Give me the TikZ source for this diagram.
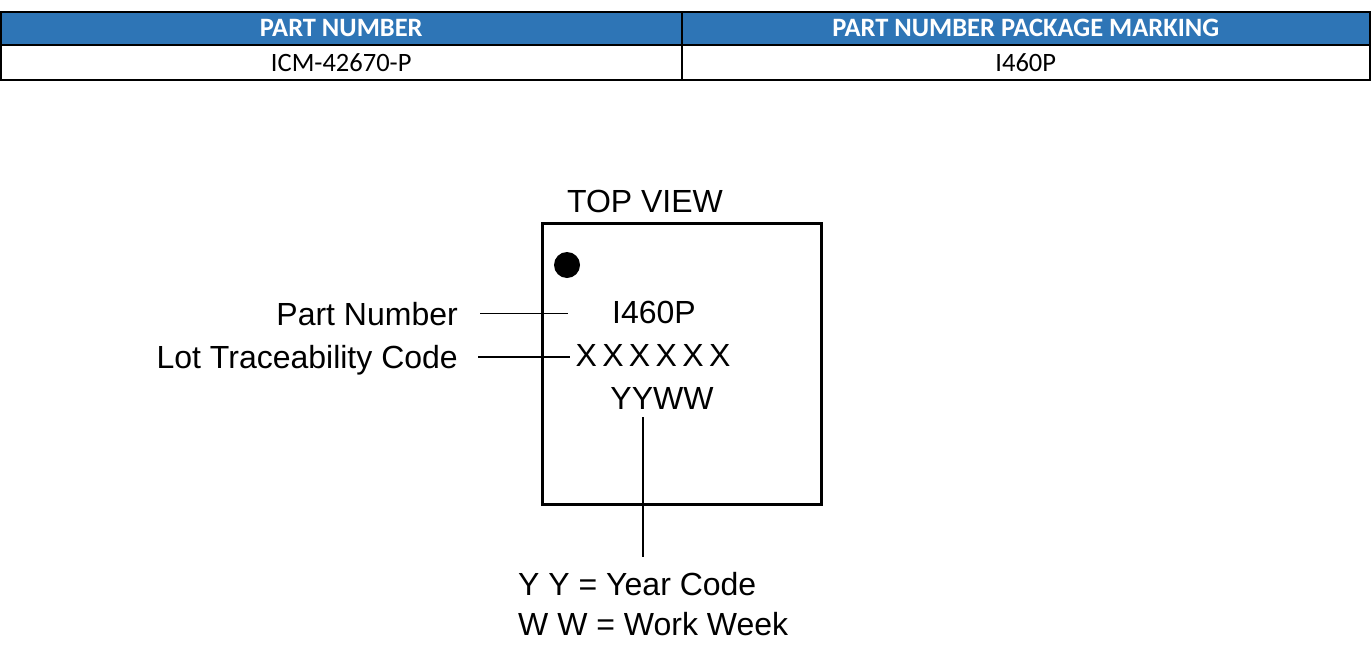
\documentclass[tikz,border=0pt]{standalone}
\usepackage{fontspec}
\setmainfont{Liberation Sans}
\newfontfamily\tablefont{Carlito}
\definecolor{hdrblue}{HTML}{2E75B6}

\begin{document}
\begin{tikzpicture}[x=1pt,y=-1pt,
	hdr/.style={draw,line width=1.5pt,fill=hdrblue,text=white,anchor=north west,
		minimum height=33pt,inner sep=0pt,font=\tablefont\fontsize{26.5}{30}\selectfont\bfseries},
	cell/.style={draw,line width=1.5pt,anchor=north west,
		minimum height=35pt,inner sep=0pt,font=\tablefont\fontsize{26.5}{30}\selectfont},
	chiptext/.style={inner sep=0pt,anchor=base,font=\fontsize{32}{38}\selectfont},
	lbl/.style={inner sep=0pt,font=\fontsize{32}{38}\selectfont},
	lead/.style={line width=1.2pt}]
\useasboundingbox (0,0) rectangle (1372,653);

% table
\node[hdr,minimum width=681pt] (hdrA) at (0,11) {PART NUMBER};
\node[hdr,minimum width=688pt] (hdrB) at (681,11) {PART NUMBER PACKAGE MARKING};
\node[cell,minimum width=681pt] (cellA) at (0,44) {ICM-42670-P};
\node[cell,minimum width=688pt] (cellB) at (681,44) {I460P};

% package
\node[draw,line width=3pt,minimum width=279pt,minimum height=281pt,anchor=north west] (chip) at (541,222) {};
\node[circle,fill,minimum size=26pt,inner sep=0pt] (dot) at (567,265) {};
\node[chiptext] (top) at (645,212) {TOP VIEW};
\node[chiptext] (pmark) at (654,323) {I460P};
\node[chiptext] (lmark) at (653,366) {X\,X\,X\,X\,X\,X};
\node[chiptext] (ymark) at (662,409) {YYWW};

% labels
\node[lbl,anchor=base east] (pn) at (458,325) {Part Number};
\node[lbl,anchor=base east] (lot) at (458,368) {Lot Traceability Code};
\node[lbl,anchor=base west] (yy) at (518,595) {Y Y = Year Code};
\node[lbl,anchor=base west] (ww) at (518,635) {W W = Work Week};

\coordinate (pnEnd) at (568,313);
\coordinate (lotEnd) at (570,357);
\coordinate (yyEnd) at (643,557);
\draw[line width=1pt] ([xshift=22pt]pn.east |- pnEnd) -- (pnEnd);
\draw[line width=2pt] ([xshift=20pt]lot.east |- lotEnd) -- (lotEnd);
\draw[lead] ([yshift=-8pt]ymark.south -| yyEnd) -- (yyEnd);
\end{tikzpicture}
\end{document}
